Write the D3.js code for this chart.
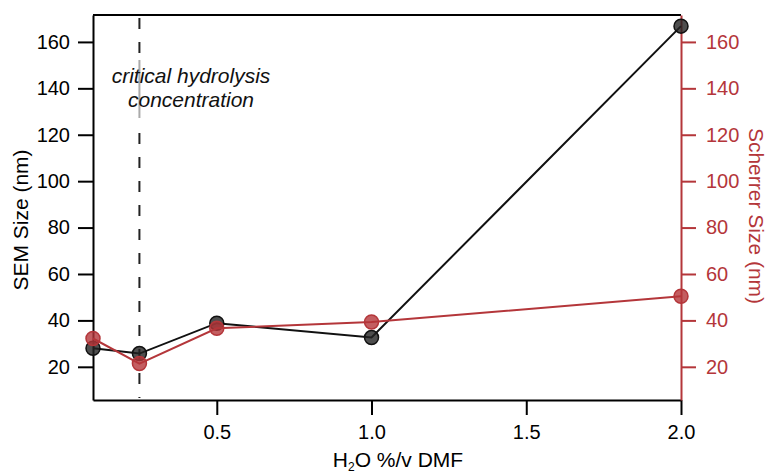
<!DOCTYPE html>
<html>
<head>
<meta charset="utf-8">
<script src="https://cdn.jsdelivr.net/npm/d3@7"></script>
<style>
	body { margin: 0; background: #fff; }
	svg { display: block; font-family: "Liberation Sans", Arial, sans-serif; }
</style>
</head>
<body>
<svg width="767" height="475"></svg>
<script>
// water content (%v/v in DMF)
const water = [0.1, 0.25, 0.5, 1.0, 2.0]
const semSize = [28, 25.7, 38.8, 32.6, 166.8]
const scherrerSize = [32.2, 21.4, 36.6, 39.3, 50.4]
const xTicks = [0.5, 1.0, 1.5, 2.0]
const yTicks = [20, 40, 60, 80, 100, 120, 140, 160]
const criticalConc = 0.25

var svg = d3.select("svg"),
	red = "#b4363a",
	tickSize = 20,
	labelSize = 21

var x = d3.scaleLinear().domain([0.1, 2.0]).range([93, 681])
var yLeft = d3.scaleLinear().domain([5.7, 171.6]).range([400, 15])
var yRight = d3.scaleLinear().domain([5.7, 171.6]).range([400, 15])

// top frame line
svg.append("line")
	.attr("x1", x.range()[0]).attr("x2", x.range()[1])
	.attr("y1", 15).attr("y2", 15)
	.attr("stroke", "#000").attr("stroke-width", 2)

// dashed marker for the critical concentration
var xc = x(criticalConc)
svg.append("line")
	.attr("x1", xc).attr("x2", xc)
	.attr("y1", 18).attr("y2", 56)
	.attr("stroke", "#222").attr("stroke-width", 2)
	.attr("stroke-dasharray", "11,13")
svg.append("line")
	.attr("x1", xc).attr("x2", xc)
	.attr("y1", 60).attr("y2", 118)
	.attr("stroke", "#aaa").attr("stroke-width", 2)
svg.append("line")
	.attr("x1", xc).attr("x2", xc)
	.attr("y1", 133).attr("y2", 398)
	.attr("stroke", "#222").attr("stroke-width", 2)
	.attr("stroke-dasharray", "11,13")

var note = svg.append("text")
	.attr("text-anchor", "middle")
	.attr("font-style", "italic")
	.attr("font-size", labelSize)
	.attr("fill", "#111")
note.append("tspan").attr("x", 191).attr("y", 83).text("critical hydrolysis")
note.append("tspan").attr("x", 191).attr("y", 107).text("concentration")

// axes
function styleAxis(g, color) {
	g.select(".domain").attr("stroke", color).attr("stroke-width", 2)
	g.selectAll(".tick line").attr("stroke", color).attr("stroke-width", 2)
	g.selectAll(".tick text").attr("fill", color).attr("font-size", tickSize)
		.attr("font-family", "Liberation Sans, Arial, sans-serif")
}

var xAxis = svg.append("g")
	.attr("transform", "translate(0,400)")
	.call(d3.axisBottom(x).tickValues(xTicks).tickFormat(d3.format(".1f"))
		.tickSize(15).tickSizeOuter(0).tickPadding(10))
styleAxis(xAxis, "#000")

var leftAxis = svg.append("g")
	.attr("transform", "translate(93,0)")
	.call(d3.axisLeft(yLeft).tickValues(yTicks).tickSize(15).tickSizeOuter(0).tickPadding(8))
styleAxis(leftAxis, "#000")

var rightAxis = svg.append("g")
	.attr("transform", "translate(681,0)")
	.call(d3.axisRight(yRight).tickValues(yTicks).tickSize(15).tickSizeOuter(0).tickPadding(10))
styleAxis(rightAxis, red)

// axis titles
var xt = svg.append("text")
	.attr("x", 398).attr("y", 467)
	.attr("text-anchor", "middle")
	.attr("font-size", labelSize)
	.attr("fill", "#000")
xt.append("tspan").text("H")
xt.append("tspan").attr("font-size", 12).attr("dy", 4).text("2")
xt.append("tspan").attr("dy", -4).text("O %/v DMF")

svg.append("text")
	.attr("transform", "translate(28,220) rotate(-90)")
	.attr("text-anchor", "middle")
	.attr("font-size", labelSize)
	.attr("fill", "#000")
	.text("SEM Size (nm)")

svg.append("text")
	.attr("transform", "translate(749,216) rotate(90)")
	.attr("text-anchor", "middle")
	.attr("font-size", labelSize)
	.attr("fill", red)
	.text("Scherrer Size (nm)")

// series
function drawSeries(values, scale, color, fill) {
	var pts = water.map((w, i) => [x(w), scale(values[i])])
	svg.append("path")
		.attr("d", d3.line()(pts))
		.attr("fill", "none")
		.attr("stroke", color)
		.attr("stroke-width", 2)
	svg.append("g").selectAll("circle")
		.data(pts)
		.enter()
		.append("circle")
		.attr("cx", d => d[0])
		.attr("cy", d => d[1])
		.attr("r", 7)
		.attr("fill", fill)
		.attr("fill-opacity", 0.8)
		.attr("stroke", color)
		.attr("stroke-width", 1.5)
}

drawSeries(semSize, yLeft, "#111", "#222")
drawSeries(scherrerSize, yRight, red, red)
</script>
</body>
</html>
